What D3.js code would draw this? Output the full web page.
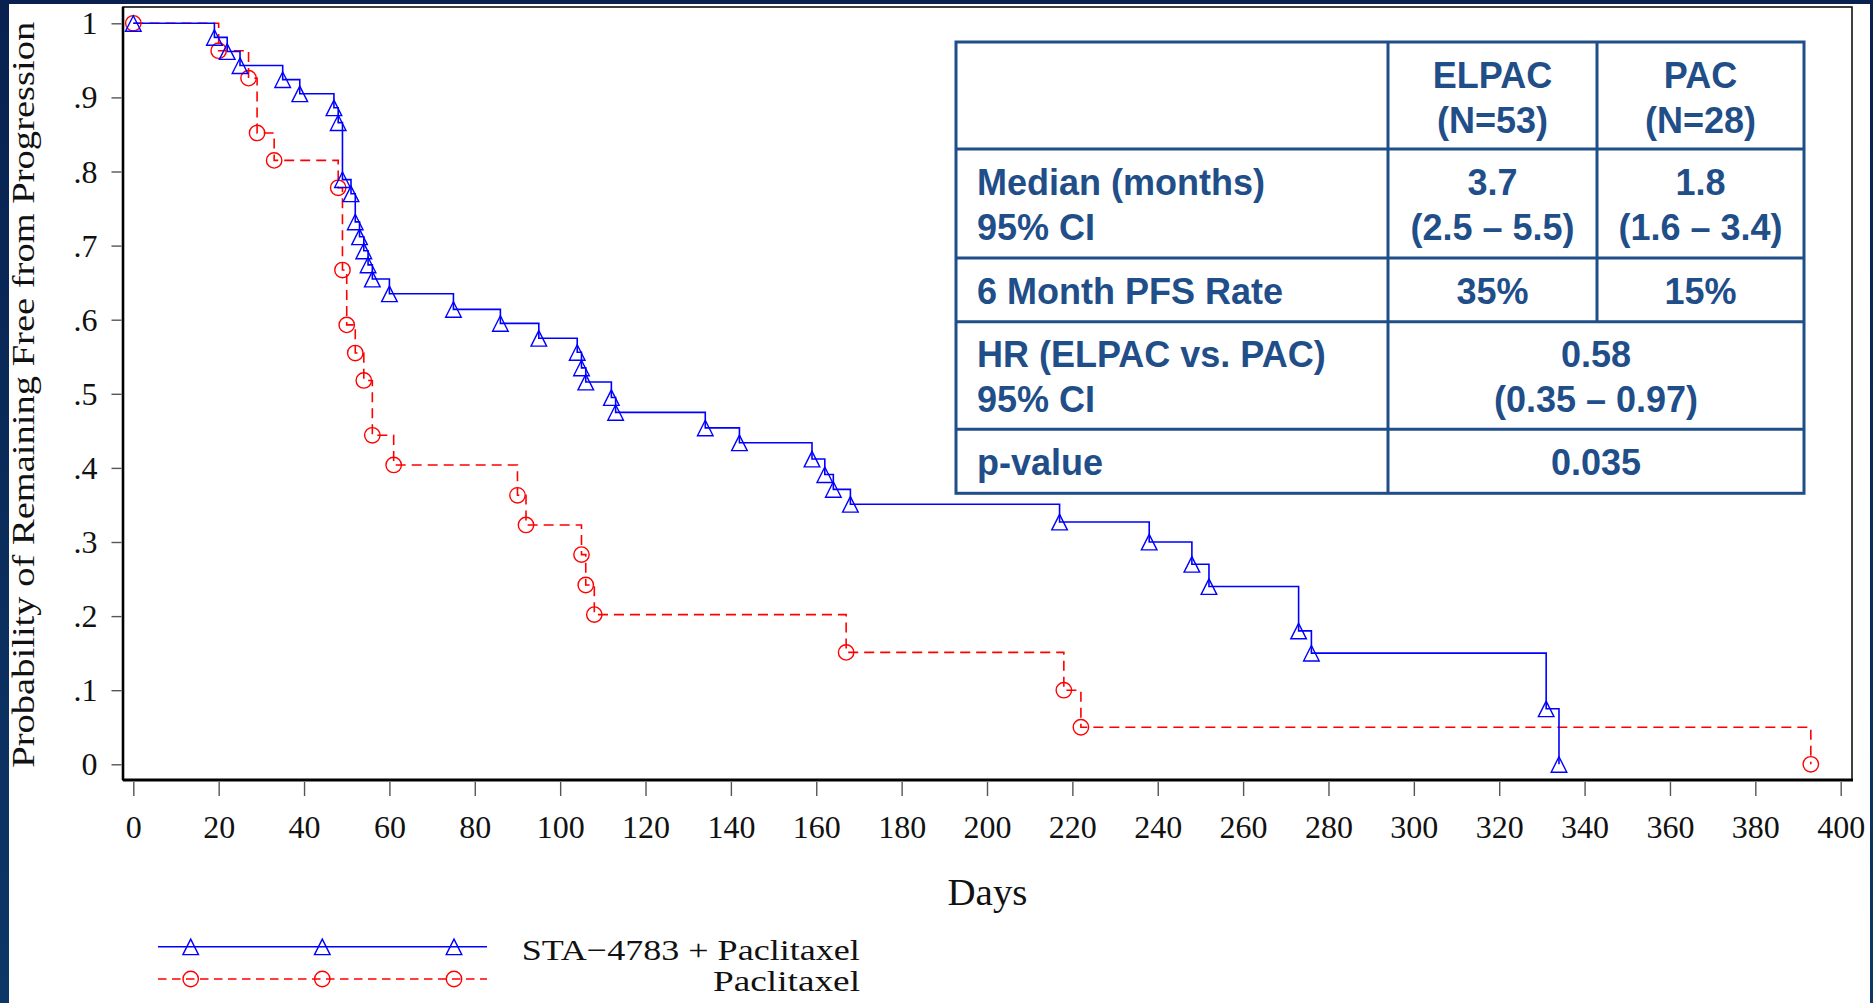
<!DOCTYPE html>
<html>
<head>
<meta charset="utf-8">
<script src="https://cdn.jsdelivr.net/npm/d3@7"></script>
<style>
  html, body { margin: 0; padding: 0; overflow: hidden; background: #0a2550; }
</style>
</head>
<body>
<svg id="chart" width="1873" height="1003"></svg>
<script>
// Kaplan-Meier steps (day, probability at the step)
const blueDays = [0, 19, 22, 25, 35, 39, 47, 48, 49, 51, 52, 53, 54, 55, 56, 60, 75, 86, 95, 104, 105, 106, 112, 113, 134, 142, 159, 162, 164, 168, 217, 238, 248, 252, 273, 276, 331, 334];
const blueSurv = [1, .981, .962, .943, .924, .905, .886, .866, .789, .770, .732, .712, .693, .674, .655, .635, .614, .595, .575, .556, .535, .516, .495, .475, .454, .434, .412, .391, .371, .351, .327, .300, .270, .240, .180, .150, .075, 0];

const redDays = [0, 20, 27, 29, 33, 48, 49, 50, 52, 54, 56, 61, 90, 92, 105, 106, 108, 167, 218, 222, 393];
const redSurv = [1, .963, .926, .852, .815, .778, .667, .593, .555, .518, .444, .404, .363, .323, .283, .242, .202, .151, .100, .050, 0];

const xTickValues = [0, 20, 40, 60, 80, 100, 120, 140, 160, 180, 200, 220, 240, 260, 280, 300, 320, 340, 360, 380, 400];
const yTickValues = [0, .1, .2, .3, .4, .5, .6, .7, .8, .9, 1];
const yTickLabels = ["0", ".1", ".2", ".3", ".4", ".5", ".6", ".7", ".8", ".9", "1"];

const seriesNames = ["STA\u22124783 + Paclitaxel", "Paclitaxel"];
const xTitle = "Days";
const yTitle = "Probability of Remaining Free from Progression";

// summary table: each row is a list of cells, each cell a list of text lines
const tableRows = [
    [[""], ["ELPAC", "(N=53)"], ["PAC", "(N=28)"]],
    [["Median (months)", "95% CI"], ["3.7", "(2.5 \u2013 5.5)"], ["1.8", "(1.6 \u2013 3.4)"]],
    [["6 Month PFS Rate"], ["35%"], ["15%"]],
    [["HR (ELPAC vs. PAC)", "95% CI"], ["0.58", "(0.35 \u2013 0.97)"]],
    [["p-value"], ["0.035"]]
];

const svg = d3.select("#chart");
const serif = "'Liberation Serif', 'Times New Roman', serif";
const sans = "'Liberation Sans', Arial, sans-serif";
const navy = "#1f4e89";

// background: dark slide strip and white panel
const grad = svg.append("defs").append("linearGradient")
    .attr("id", "bg").attr("x1", 0).attr("y1", 0).attr("x2", 0).attr("y2", 1);
grad.append("stop").attr("offset", "0%").attr("stop-color", "#082150");
grad.append("stop").attr("offset", "100%").attr("stop-color", "#0c3766");
svg.append("rect").attr("width", 1873).attr("height", 1003).attr("fill", "url(#bg)");
svg.append("rect").attr("x", 9).attr("y", 4).attr("width", 1861).attr("height", 1000).attr("fill", "white");

const x = d3.scaleLinear().domain([0, 400]).range([133.3, 1840.7]);
const y = d3.scaleLinear().domain([0, 1]).range([764.3, 23.3]);

// plot frame
const frame = { left: 123, top: 7, right: 1852, bottom: 780 };
svg.append("rect")
    .attr("x", frame.left).attr("y", frame.top)
    .attr("width", frame.right - frame.left).attr("height", frame.bottom - frame.top)
    .attr("fill", "none").attr("stroke", "#111").attr("stroke-width", 1.6);
svg.append("line")
    .attr("x1", frame.left).attr("x2", frame.left).attr("y1", frame.top).attr("y2", frame.bottom)
    .attr("stroke", "black").attr("stroke-width", 2.6);
svg.append("line")
    .attr("x1", frame.left).attr("x2", frame.right + 1).attr("y1", frame.bottom).attr("y2", frame.bottom)
    .attr("stroke", "black").attr("stroke-width", 3.2);

// x axis
const xAxis = svg.append("g")
    .attr("transform", `translate(0,${frame.bottom + 2})`)
    .call(d3.axisBottom(x).tickValues(xTickValues).tickSize(14).tickFormat(d => d));
xAxis.select(".domain").remove();
xAxis.selectAll(".tick line").attr("stroke", "#555").attr("stroke-width", 1.4);
xAxis.selectAll(".tick text")
    .attr("y", 56).attr("dy", 0)
    .attr("font-family", serif).attr("font-size", 32).attr("fill", "#111");

// y axis
const yAxis = svg.append("g")
    .attr("transform", `translate(${frame.left - 1.5},0)`)
    .call(d3.axisLeft(y).tickValues(yTickValues).tickSize(10).tickPadding(14)
        .tickFormat((d, i) => yTickLabels[i]));
yAxis.select(".domain").remove();
yAxis.selectAll(".tick line").attr("stroke", "#555").attr("stroke-width", 1.4);
yAxis.selectAll(".tick text")
    .attr("dy", "0.33em")
    .attr("font-family", serif).attr("font-size", 32).attr("fill", "#111");

// axis titles
svg.append("text")
    .attr("transform", "translate(33.5,394.7) rotate(-90)")
    .attr("text-anchor", "middle")
    .attr("font-family", serif).attr("font-size", 32).attr("fill", "#111")
    .attr("textLength", 746).attr("lengthAdjust", "spacingAndGlyphs")
    .text(yTitle);
svg.append("text")
    .attr("x", 987.5).attr("y", 905)
    .attr("text-anchor", "middle")
    .attr("font-family", serif).attr("font-size", 37).attr("fill", "#111")
    .attr("textLength", 80).attr("lengthAdjust", "spacingAndGlyphs")
    .text(xTitle);

// curves
const stepLine = d3.line()
    .x(d => x(d[0]))
    .y(d => y(d[1]))
    .curve(d3.curveStepAfter);

const bluePts = blueDays.map((d, i) => [d, blueSurv[i]]);
const redPts = redDays.map((d, i) => [d, redSurv[i]]);

const triangle = "M0,-7.6L7.8,7.9L-7.8,7.9Z";

svg.append("path").datum(redPts)
    .attr("d", stepLine)
    .attr("fill", "none").attr("stroke", "#ff0000").attr("stroke-width", 1.6)
    .attr("stroke-dasharray", "10,6");
svg.append("path").datum(bluePts)
    .attr("d", stepLine)
    .attr("fill", "none").attr("stroke", "#0000ff").attr("stroke-width", 1.6);

svg.selectAll(".redMark").data(redPts).enter().append("circle")
    .attr("class", "redMark")
    .attr("cx", d => x(d[0])).attr("cy", d => y(d[1])).attr("r", 7.7)
    .attr("fill", "none").attr("stroke", "#ff0000").attr("stroke-width", 1.4);
svg.selectAll(".blueMark").data(bluePts).enter().append("path")
    .attr("class", "blueMark")
    .attr("transform", d => `translate(${x(d[0])},${y(d[1])})`)
    .attr("d", triangle)
    .attr("fill", "none").attr("stroke", "#0000ff").attr("stroke-width", 1.4);

// legend
const legendX = [158, 487];
const legendMarks = [190.7, 322.3, 454];
const legend = svg.append("g");
legend.append("line")
    .attr("x1", legendX[0]).attr("x2", legendX[1]).attr("y1", 946.7).attr("y2", 946.7)
    .attr("stroke", "#0000ff").attr("stroke-width", 1.6);
legend.append("line")
    .attr("x1", legendX[0]).attr("x2", legendX[1]).attr("y1", 979).attr("y2", 979)
    .attr("stroke", "#ff0000").attr("stroke-width", 1.6).attr("stroke-dasharray", "8.5,5.5");
legendMarks.forEach(mx => {
    legend.append("path")
        .attr("transform", `translate(${mx},946.7)`)
        .attr("d", triangle)
        .attr("fill", "none").attr("stroke", "#0000ff").attr("stroke-width", 1.4);
    legend.append("circle")
        .attr("cx", mx).attr("cy", 979).attr("r", 7.7)
        .attr("fill", "none").attr("stroke", "#ff0000").attr("stroke-width", 1.4);
});
legend.append("text")
    .attr("x", 521.7).attr("y", 960)
    .attr("font-family", serif).attr("font-size", 30).attr("fill", "#111")
    .attr("textLength", 338).attr("lengthAdjust", "spacingAndGlyphs")
    .text(seriesNames[0]);
legend.append("text")
    .attr("x", 713).attr("y", 991)
    .attr("font-family", serif).attr("font-size", 30).attr("fill", "#111")
    .attr("textLength", 147).attr("lengthAdjust", "spacingAndGlyphs")
    .text(seriesNames[1]);

// summary table
const colX = [956, 1388, 1597, 1804];
const rowY = [42, 149, 258, 321.7, 429.3, 493.3];
const table = svg.append("g");
table.append("rect")
    .attr("x", colX[0]).attr("y", rowY[0])
    .attr("width", colX[3] - colX[0]).attr("height", rowY[5] - rowY[0])
    .attr("fill", "white").attr("stroke", navy).attr("stroke-width", 3);
rowY.slice(1, 5).forEach(ry => {
    table.append("line")
        .attr("x1", colX[0]).attr("x2", colX[3]).attr("y1", ry).attr("y2", ry)
        .attr("stroke", navy).attr("stroke-width", 3);
});
table.append("line")
    .attr("x1", colX[1]).attr("x2", colX[1]).attr("y1", rowY[0]).attr("y2", rowY[5])
    .attr("stroke", navy).attr("stroke-width", 3);
table.append("line")
    .attr("x1", colX[2]).attr("x2", colX[2]).attr("y1", rowY[0]).attr("y2", rowY[3])
    .attr("stroke", navy).attr("stroke-width", 3);

tableRows.forEach((cells, r) => {
    const top = rowY[r];
    cells.forEach((lines, c) => {
        let cx, anchor;
        if (c === 0) { cx = 977; anchor = "start"; }
        else if (cells.length === 2) { cx = (colX[1] + colX[3]) / 2; anchor = "middle"; }
        else { cx = (colX[c] + colX[c + 1]) / 2; anchor = "middle"; }
        lines.forEach((t, k) => {
            table.append("text")
                .attr("x", cx).attr("y", top + 45.5 + k * 45)
                .attr("text-anchor", anchor)
                .attr("font-family", sans).attr("font-weight", "bold")
                .attr("font-size", 36).attr("fill", navy)
                .text(t);
        });
    });
});
</script>
</body>
</html>
